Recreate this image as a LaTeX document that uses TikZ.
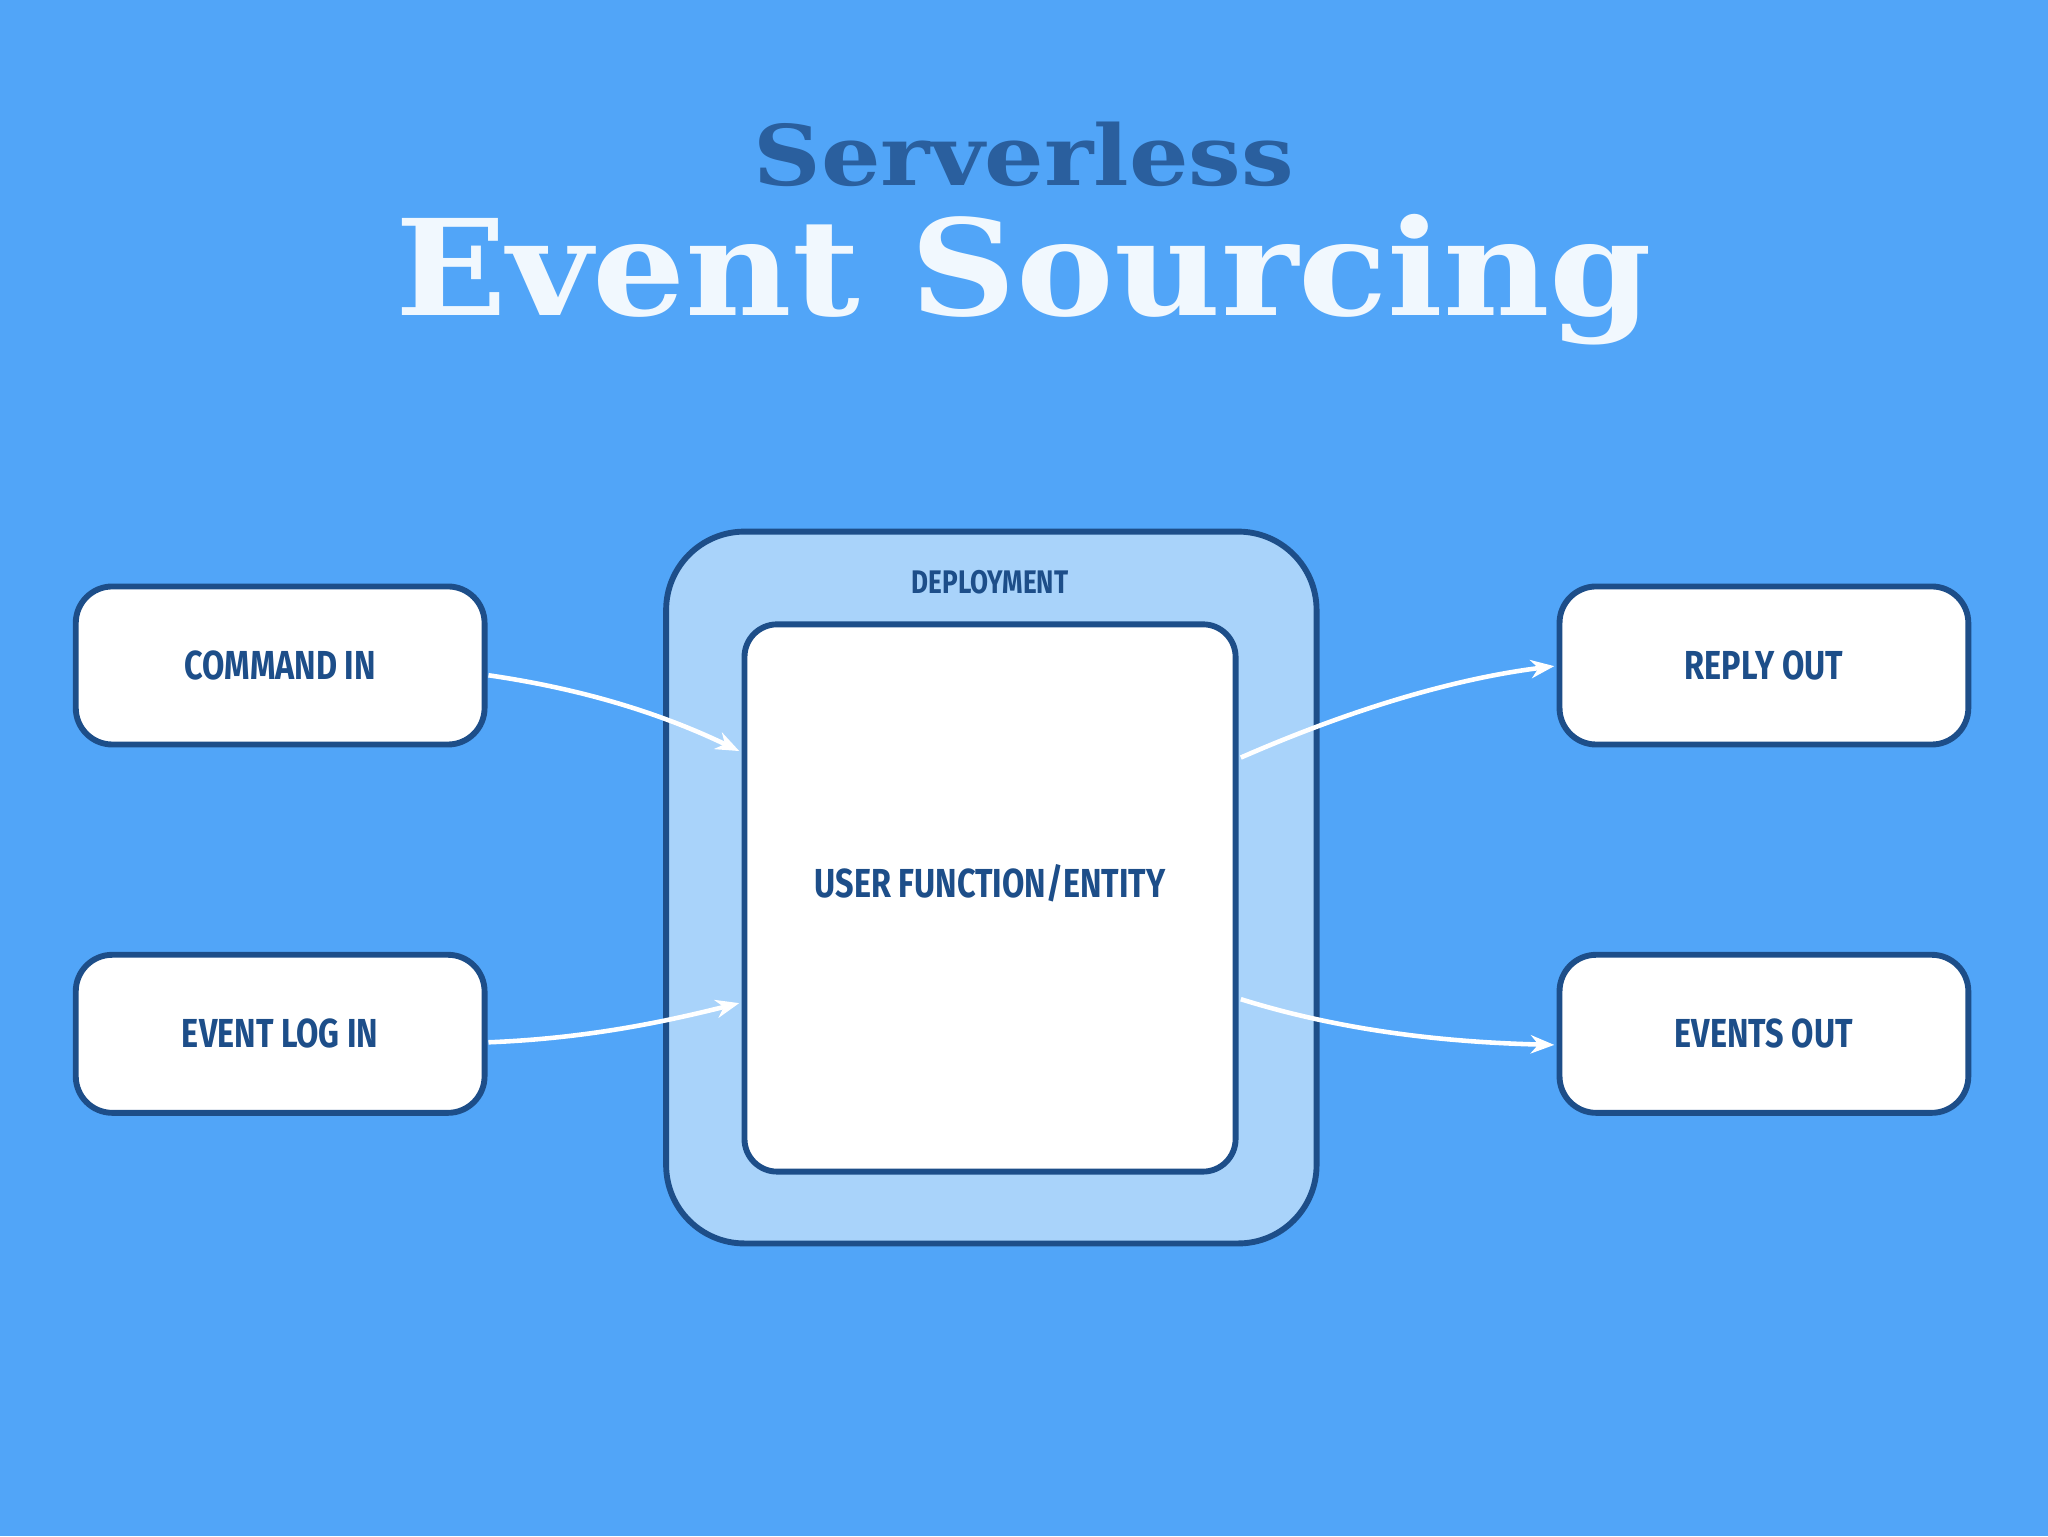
\documentclass[tikz,border=0pt]{standalone}
\usepackage{fontspec}
\setmainfont{Fira Sans}
\newfontfamily\titlefont{DejaVu Serif}
\usetikzlibrary{arrows.meta}
\definecolor{bg}{HTML}{51A5F8}
\definecolor{dk}{HTML}{1D4E89}
\definecolor{dep}{HTML}{A9D3FA}
\definecolor{ttl}{HTML}{2A5F9E}
\tikzset{
 box/.style={draw=dk,line width=4.5pt,fill=white,rounded corners=28pt,minimum width=313pt,minimum height=121pt,inner sep=0pt},
 lbl/.style={text=dk,font=\bfseries\fontsize{31}{31}\selectfont,xscale=0.8},
 arr/.style={draw=white,line width=3.5pt,-{Stealth[length=18pt,width=14pt]}}
}
\begin{document}
\begin{tikzpicture}[x=1pt,y=-1pt]
\fill[bg] (0,0) rectangle (1568,1176);
\useasboundingbox (0,0) rectangle (1568,1176);
\node[text=ttl,font=\titlefont\bfseries\fontsize{64}{64}\selectfont,xscale=1.12] (t1) at (784,118) {Serverless};
\node[text=white!92!bg,font=\titlefont\bfseries\fontsize{102}{102}\selectfont,xscale=1.1] (t2) at (784,214) {Event Sourcing};
\draw[dk,line width=4.5pt,fill=dep,rounded corners=60pt] (510,407) rectangle (1008,952);
\node[box,minimum width=376pt,minimum height=419pt,rounded corners=25pt] (uf) at (758,687.5) {};
\node[lbl,font=\bfseries\fontsize{25}{25}\selectfont] (dl) at (758,446) {DEPLOYMENT};
\node[lbl] (ul) at (758,676) {USER FUNCTION/ENTITY};
\node[box] (ci) at (214.5,509.5) {}; \node[lbl] at (ci) {COMMAND IN};
\node[box] (ei) at (214.5,791.5) {}; \node[lbl] at (ei) {EVENT LOG IN};
\node[box] (ro) at (1350.5,509.5) {}; \node[lbl] at (ro) {REPLY OUT};
\node[box] (eo) at (1350.5,791.5) {}; \node[lbl] at (eo) {EVENTS OUT};
\coordinate (a1) at (374,517); \coordinate (b1) at (566,575);
\coordinate (a2) at (374,798); \coordinate (b2) at (566,768);
\coordinate (a3) at (950,580); \coordinate (b3) at (1190,510);
\coordinate (a4) at (950,765); \coordinate (b4) at (1190,800);
\draw[arr] (a1) .. controls (450,528) and (510,548) .. (b1);
\draw[arr] (a2) .. controls (450,795) and (510,782) .. (b2);
\draw[arr] (a3) .. controls (1030,545) and (1110,520) .. (b3);
\draw[arr] (a4) .. controls (1030,790) and (1110,798) .. (b4);
\end{tikzpicture}
\end{document}
